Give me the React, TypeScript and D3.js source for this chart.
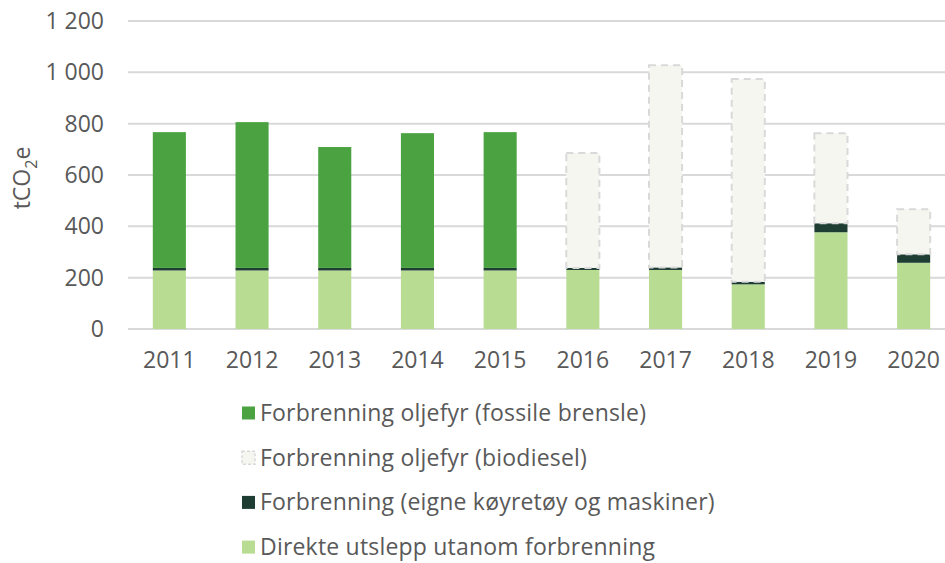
import React from "react";
import * as d3 from "d3";

const years = ["2011", "2012", "2013", "2014", "2015", "2016", "2017", "2018", "2019", "2020"];
const direkte = [228, 228, 228, 228, 228, 230, 230, 174, 377, 258];
const koyretoy = [10, 10, 10, 10, 10, 8, 10, 10, 35, 33];
const fossil = [529, 568, 471, 525, 529, 0, 0, 0, 0, 0];
const biodiesel = [0, 0, 0, 0, 0, 448, 788, 790, 351, 176];
const yTicks = [0, 200, 400, 600, 800, 1000, 1200];

const seriesKeys = ["direkte", "koyretoy", "fossil", "biodiesel"];
const seriesLabels: Record<string, string> = {
  fossil: "Forbrenning oljefyr (fossile brensle)",
  biodiesel: "Forbrenning oljefyr (biodiesel)",
  koyretoy: "Forbrenning (eigne køyretøy og maskiner)",
  direkte: "Direkte utslepp utanom forbrenning",
};
const legendOrder = ["fossil", "biodiesel", "koyretoy", "direkte"];
const colors: Record<string, string> = {
  fossil: "#4aa340",
  biodiesel: "#f6f6f1",
  koyretoy: "#1e3d33",
  direkte: "#b8dc92",
};

const W = 945;
const H = 563;
const margin = { left: 128, right: 945 - 955, top: 21, bottom: 563 - 329 };
const font = "'Open Sans', Lato, sans-serif";
const textColor = "#595959";
const fs = 23;

export default function App() {
  const table = years.map((y, i) => ({
    year: y,
    direkte: direkte[i],
    koyretoy: koyretoy[i],
    fossil: fossil[i],
    biodiesel: biodiesel[i],
  }));
  const stack = d3.stack<any>().keys(seriesKeys)(table);
  const x = d3.scaleBand().domain(years).range([margin.left, W - margin.right]).paddingInner(0.6).paddingOuter(0.3);
  const y = d3.scaleLinear().domain([0, 1200]).range([H - margin.bottom, margin.top]);

  return (
    <svg width={W} height={H} style={{ position: "absolute", left: 0, top: 0 }} fontFamily={font}>
      {yTicks.map((t) => (
        <g key={t}>
          <line x1={margin.left} x2={W} y1={y(t)} y2={y(t)} stroke="#d9d9d9" strokeWidth={2} />
          <text x={104} y={y(t)} dy="0.35em" textAnchor="end" fontSize={fs} fill={textColor}>
            {d3.format(",")(t).replace(/,/g, " ")}
          </text>
        </g>
      ))}
      {stack.map((s) => (
        <g key={s.key}>
          {s.map((d, i) => {
            const h = y(d[0]) - y(d[1]);
            if (h <= 0) return null;
            const isBio = s.key === "biodiesel";
            return (
              <rect
                key={i}
                x={x(years[i])!}
                y={y(d[1])}
                width={x.bandwidth()}
                height={h}
                fill={colors[s.key]}
                stroke={isBio ? "#d9d9d9" : "none"}
                strokeWidth={isBio ? 2 : 0}
                strokeDasharray={isBio ? "7 5" : undefined}
              />
            );
          })}
        </g>
      ))}
      {years.map((yr) => (
        <text key={yr} x={x(yr)! + x.bandwidth() / 2} y={368} textAnchor="middle" fontSize={fs} fill={textColor}>
          {yr}
        </text>
      ))}
      <text transform={`translate(30,178) rotate(-90)`} textAnchor="middle" fontSize={fs} fill={textColor}>
        tCO<tspan fontSize={16} dy={7}>2</tspan><tspan dy={-7}>e</tspan>
      </text>
      {legendOrder.map((k, i) => {
        const cy = 413 + i * 44.7;
        const isBio = k === "biodiesel";
        return (
          <g key={k}>
            <rect
              x={242}
              y={cy - 6.5}
              width={13}
              height={13}
              fill={colors[k]}
              stroke={isBio ? "#d9d9d9" : "none"}
              strokeWidth={isBio ? 1.5 : 0}
              strokeDasharray={isBio ? "3 2" : undefined}
            />
            <text x={260} y={cy} dy="0.35em" fontSize={fs} fill={textColor} letterSpacing={0.2}>
              {seriesLabels[k]}
            </text>
          </g>
        );
      })}
    </svg>
  );
}
